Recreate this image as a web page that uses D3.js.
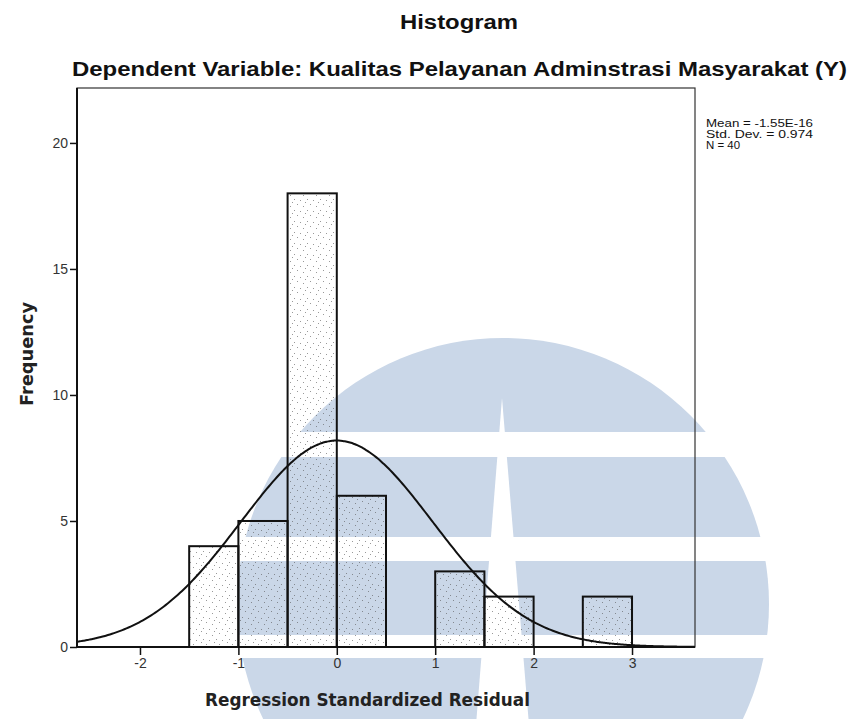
<!DOCTYPE html>
<html>
<head>
<meta charset="utf-8">
<script src="https://cdn.jsdelivr.net/npm/d3@7"></script>
<style>
  html, body { margin: 0; padding: 0; background: #fff; }
  svg { display: block; }
</style>
</head>
<body>
<svg id="chart" width="851" height="719"></svg>
<script>
// ---- data ----
const binLow  = [-1.5, -1.0, -0.5, 0.0, 1.0, 1.5, 2.5];
const binHigh = [-1.0, -0.5,  0.0, 0.5, 1.5, 2.0, 3.0];
const counts  = [4, 5, 18, 6, 3, 2, 2];
const xTicks = [-2, -1, 0, 1, 2, 3];
const yTicks = [0, 5, 10, 15, 20];
const statMean = -1.55e-16;
const statSD = 0.974;
const statN = 40;
const statLines = ["Mean = -1.55E-16", "Std. Dev. = 0.974", "N = 40"];
const titleText = "Histogram";
const subtitleText = "Dependent Variable: Kualitas Pelayanan Adminstrasi Masyarakat (Y)";
const xTitle = "Regression Standardized Residual";
const yTitle = "Frequency";

// ---- layout ----
const svg = d3.select("#chart");
const plot = { left: 77, right: 695, top: 88, bottom: 647 };
const x = d3.scaleLinear().domain([-2.64, 3.64]).range([plot.left, plot.right]);
const y = d3.scaleLinear().domain([0, 22.18]).range([plot.bottom, plot.top]);

// ---- watermark (background decoration) ----
const wm = svg.append("g").attr("class", "watermark");
const defs = svg.append("defs");
defs.append("clipPath").attr("id", "wmclip")
  .append("circle").attr("cx", 503).attr("cy", 604).attr("r", 266);
const wmBlue = "#cad7e8";
const bands = [[336, 432], [457, 537], [561, 635], [658, 730]];
wm.selectAll("rect").data(bands).join("rect")
  .attr("clip-path", "url(#wmclip)")
  .attr("x", 200).attr("width", 620)
  .attr("y", d => d[0]).attr("height", d => d[1] - d[0])
  .attr("fill", wmBlue);
wm.append("path")
  .attr("d", "M502,398 L476,725 L529,725 Z")
  .attr("fill", "#fff");

// stipple pattern (sparse grey speckles)
const pat = defs.append("pattern").attr("id", "stipple")
  .attr("patternUnits", "userSpaceOnUse").attr("width", 13).attr("height", 11);
[[1,2],[8,1],[11,6],[4,8],[6,4]].forEach(p => {
  pat.append("rect").attr("x", p[0]).attr("y", p[1]).attr("width", 1).attr("height", 1)
    .attr("fill", "#555").attr("opacity", 0.6);
});

// ---- bars ----
const bars = binLow.map((lo, i) => ({ lo, hi: binHigh[i], c: counts[i] }));
svg.append("g").selectAll("rect").data(bars).join("rect")
  .attr("x", d => x(d.lo))
  .attr("y", d => y(d.c))
  .attr("width", d => x(d.hi) - x(d.lo))
  .attr("height", d => y(0) - y(d.c))
  .attr("fill", "url(#stipple)")
  .attr("stroke", "#111")
  .attr("stroke-width", 2);

// ---- normal curve ----
const binW = binHigh[0] - binLow[0];
const pdf = v => Math.exp(-0.5 * ((v - statMean) / statSD) ** 2) / (statSD * Math.sqrt(2 * Math.PI));
const curvePts = d3.range(0, 301).map(i => {
  const v = x.domain()[0] + (x.domain()[1] - x.domain()[0]) * i / 300;
  return [v, statN * binW * pdf(v)];
});
svg.append("path")
  .datum(curvePts)
  .attr("fill", "none")
  .attr("stroke", "#111")
  .attr("stroke-width", 2)
  .attr("d", d3.line().x(d => x(d[0])).y(d => y(d[1])).curve(d3.curveBasis));

// ---- frame ----
svg.append("rect")
  .attr("x", plot.left).attr("y", plot.top)
  .attr("width", plot.right - plot.left).attr("height", plot.bottom - plot.top)
  .attr("fill", "none").attr("stroke", "#333").attr("stroke-width", 1.2);
svg.append("line")
  .attr("x1", plot.left).attr("x2", plot.right)
  .attr("y1", plot.bottom).attr("y2", plot.bottom)
  .attr("stroke", "#111").attr("stroke-width", 2);
svg.append("line")
  .attr("x1", plot.left).attr("x2", plot.left)
  .attr("y1", plot.top).attr("y2", plot.bottom)
  .attr("stroke", "#111").attr("stroke-width", 2);

// ---- axes ----
const fmt = d => String(d);
const yAxis = svg.append("g").attr("transform", `translate(${plot.left},0)`)
  .call(d3.axisLeft(y).tickValues(yTicks).tickSize(7).tickPadding(2).tickFormat(fmt));
yAxis.select(".domain").remove();
yAxis.selectAll("line").attr("stroke", "#111").attr("stroke-width", 1.5);
yAxis.selectAll("text").attr("font-family", "Liberation Sans, Arial, sans-serif")
  .attr("font-size", 14).attr("fill", "#333");

const xAxis = svg.append("g").attr("transform", `translate(0,${plot.bottom})`)
  .call(d3.axisBottom(x).tickValues(xTicks).tickSize(8).tickPadding(3).tickFormat(fmt));
xAxis.select(".domain").remove();
xAxis.selectAll("line").attr("stroke", "#111").attr("stroke-width", 1.5);
xAxis.selectAll("text").attr("font-family", "Liberation Sans, Arial, sans-serif")
  .attr("font-size", 14).attr("fill", "#333");

// ---- titles ----
svg.append("text").text(titleText)
  .attr("x", 400).attr("y", 29)
  .attr("textLength", 118).attr("lengthAdjust", "spacingAndGlyphs")
  .attr("font-family", "Liberation Sans, Arial, sans-serif")
  .attr("font-weight", "bold").attr("font-size", 20).attr("fill", "#111");
svg.append("text").text(subtitleText)
  .attr("x", 72).attr("y", 76)
  .attr("textLength", 775).attr("lengthAdjust", "spacingAndGlyphs")
  .attr("font-family", "Liberation Sans, Arial, sans-serif")
  .attr("font-weight", "bold").attr("font-size", 21).attr("fill", "#111");
svg.append("text").text(xTitle)
  .attr("x", 205).attr("y", 706)
  .attr("textLength", 325).attr("lengthAdjust", "spacingAndGlyphs")
  .attr("font-family", "DejaVu Sans, Verdana, sans-serif")
  .attr("font-weight", "bold").attr("font-size", 18).attr("fill", "#222");
svg.append("text").text(yTitle)
  .attr("transform", "translate(33,406) rotate(-90)")
  .attr("textLength", 104).attr("lengthAdjust", "spacingAndGlyphs")
  .attr("font-family", "DejaVu Sans, Verdana, sans-serif")
  .attr("font-weight", "bold").attr("font-size", 18).attr("fill", "#222");

// ---- stats ----
const statWidths = [107, 107, 34];
svg.append("g").selectAll("text").data(statLines).join("text")
  .text(d => d)
  .attr("x", 706)
  .attr("y", (d, i) => 127 + i * 11)
  .attr("textLength", (d, i) => statWidths[i]).attr("lengthAdjust", "spacingAndGlyphs")
  .attr("font-family", "Liberation Sans, Arial, sans-serif")
  .attr("font-size", 10.5).attr("fill", "#111");
</script>
</body>
</html>
